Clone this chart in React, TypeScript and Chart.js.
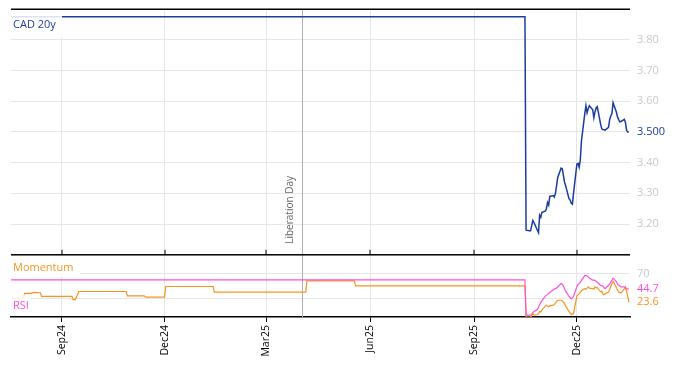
import { useEffect, useRef } from 'react';
import { Chart, registerables } from 'chart.js';

Chart.register(...registerables);

const FONT = "'Open Sans', 'Noto Sans', sans-serif";
const BLUE = '#1b3d9e';
const MAGENTA = '#ff4fd8';
const ORANGE = '#f7941d';
const GRID = '#e6e6e6';
const TICK_GRAY = '#c9c9c9';

// ---- axis / annotation data ----
const X_START = '2024-07-18';
const X_END = '2026-01-17';
const TICK_DATES = ['2024-09-01', '2024-12-01', '2025-03-01', '2025-06-01', '2025-09-01', '2025-12-01'];
const TICK_LABELS = ['Sep24', 'Dec24', 'Mar25', 'Jun25', 'Sep25', 'Dec25'];
const EVENT_DATE = '2025-04-02';
const EVENT_LABEL = 'Liberation Day';
const Y_TICKS = [3.2, 3.3, 3.4, 3.5, 3.6, 3.7, 3.8];
const Y2_TICKS = [30, 70];

// ---- series data ----
const CAD_HIST_DATES = ['2024-07-18', '2025-10-16'];
const CAD_HIST_VALUES = [3.875, 3.875];
const RSI_HIST_DATES = ['2024-07-18', '2025-10-16'];
const RSI_HIST_VALUES = [59.7, 59.7];
const MOM_HIST_DATES = [
  '2024-07-18', '2024-07-29', '2024-07-30', '2024-08-05', '2024-08-07', '2024-08-13',
  '2024-08-14', '2024-09-10', '2024-09-11', '2024-09-13', '2024-09-16', '2024-10-28',
  '2024-10-29', '2024-11-13', '2024-11-14', '2024-12-01', '2024-12-02', '2025-01-13',
  '2025-01-14', '2025-04-05', '2025-04-06', '2025-05-18', '2025-05-19', '2025-10-16',
];
const MOM_HIST_VALUES = [
  30, 30, 38, 38, 39.5, 39,
  33, 33, 28, 28, 41, 41,
  34, 34, 32, 32, 49, 49,
  40, 40, 58.2, 58.2, 50, 50,
];

// daily (business-day) tail, 2025-10-17 .. 2026-01-16
const TAIL_START = '2025-10-17';
const TAIL_END = '2026-01-16';
const CAD_TAIL = [
  3.180, 3.178, 3.178, 3.195, 3.212, 3.205, 3.180, 3.172, 3.229, 3.222,
  3.238, 3.242, 3.250, 3.270, 3.262, 3.290, 3.293, 3.288, 3.300, 3.325,
  3.352, 3.382, 3.380, 3.360, 3.337, 3.325, 3.283, 3.278, 3.268, 3.265,
  3.300, 3.396, 3.398, 3.385, 3.408, 3.470, 3.560, 3.585, 3.562, 3.575,
  3.585, 3.572, 3.546, 3.565, 3.578, 3.582, 3.525, 3.510, 3.508, 3.507,
  3.506, 3.515, 3.540, 3.552, 3.560, 3.595, 3.564, 3.548, 3.540, 3.533,
  3.534, 3.541, 3.530, 3.505, 3.500, 3.500,
];
const RSI_TAIL = [
  3, 3, 3.5, 4.5, 7, 9, 12, 15.5, 19.5, 23.5,
  26, 33.5, 35.2, 36.4, 38, 39.4, 43.5, 45.4, 45.6, 46.5,
  48.2, 53.7, 52.8, 50, 45.6, 41.5, 33, 31, 29.5, 31,
  33, 49, 52.3, 54, 55.8, 58.8, 66.5, 67, 65.8, 64.5,
  62.8, 59.2, 59.2, 59, 57.5, 55.8, 50.8, 50.4, 49.5, 47,
  45.6, 51, 53, 56, 59.2, 62.5, 57, 52.5, 51, 50.2,
  48.5, 48.4, 47, 45.6, 45, 44.7,
];
const MOM_TAIL = [
  0, 0, 0, 2, 5.3, 3, 4, 5, 9, 8,
  11, 17.5, 18.9, 17.5, 16.5, 18, 19, 19.8, 22.5, 25,
  26.9, 26.9, 26, 24, 21.5, 17.5, 9, 6, 3.7, 5,
  5.3, 34, 35.5, 37.5, 40, 42.5, 45.5, 44.7, 46.5, 48,
  46.5, 45.5, 45, 48.4, 46.5, 47.5, 40.5, 41.5, 37, 36,
  37.5, 40, 44, 49, 54, 57, 47, 43, 40, 39.5,
  38.5, 45, 48, 41, 33, 23.6,
];

// ---- helpers ----
const dayNum = (s: string) => {
  const [y, m, d] = s.split('-').map(Number);
  return Date.UTC(y, m - 1, d) / 86400000;
};
const businessDays = (start: string, end: string) => {
  const out: number[] = [];
  for (let d = dayNum(start); d <= dayNum(end); d++) {
    const wd = new Date(d * 86400000).getUTCDay();
    if (wd !== 0 && wd !== 6) out.push(d);
  }
  return out;
};
const TAIL_DAYS = businessDays(TAIL_START, TAIL_END);
const buildSeries = (hd: string[], hv: number[], tail: number[]) => [
  ...hd.map((d, i) => ({ x: dayNum(d), y: hv[i] })),
  ...tail.map((v, i) => ({ x: TAIL_DAYS[i], y: v })),
];

const overlayPlugin = {
  id: 'overlay',
  beforeDatasetsDraw(chart: any) {
    const { ctx, chartArea, scales } = chart;
    const x = Math.round(scales.x.getPixelForValue(dayNum(EVENT_DATE))) + 0.5;
    ctx.save();
    ctx.strokeStyle = '#b0b0b0';
    ctx.lineWidth = 1;
    ctx.beginPath();
    ctx.moveTo(x, chartArea.top);
    ctx.lineTo(x, chartArea.bottom);
    ctx.stroke();
    ctx.translate(x - 12, scales.y.bottom - 11);
    ctx.rotate(-Math.PI / 2);
    ctx.font = `10px ${FONT}`;
    ctx.fillStyle = '#666';
    ctx.textAlign = 'left';
    ctx.textBaseline = 'middle';
    ctx.fillText(EVENT_LABEL, 0, 0);
    ctx.restore();
  },
  afterDatasetsDraw(chart: any) {
    const { ctx, chartArea, scales } = chart;
    const L = chartArea.left;
    const W = chartArea.right - chartArea.left;
    ctx.save();
    const nameBox = (text: string, color: string, bx: number, by: number, bw: number, bh: number, ty: number) => {
      ctx.fillStyle = 'rgba(255,255,255,0.85)';
      ctx.fillRect(bx, by, bw, bh);
      ctx.fillStyle = color;
      ctx.font = `11px ${FONT}`;
      ctx.textAlign = 'left';
      ctx.textBaseline = 'middle';
      ctx.fillText(text, L + 2, ty);
    };
    const yTop = scales.y.top;
    const y2Top = scales.y2.top;
    nameBox('CAD 20y', BLUE, L, yTop + 1, 51, 27, yTop + 16);
    nameBox('Momentum', ORANGE, L, y2Top + 1, 69, 21, y2Top + 13);
    nameBox('RSI', MAGENTA, L, y2Top + 40, 20, 21, y2Top + 51);

    ctx.fillStyle = '#000';
    ctx.fillRect(L, chartArea.top - 0.5, W, 1.5);
    const yb = scales.y.bottom;
    ctx.fillRect(L, yb - 0.75, W, 1.5);
    TICK_DATES.forEach((d) => {
      const px = Math.round(scales.x.getPixelForValue(dayNum(d)));
      ctx.fillRect(px - 0.5, yb - 5, 1, 5);
    });

    const items = [
      { s: scales.y, v: CAD_TAIL[CAD_TAIL.length - 1], t: CAD_TAIL[CAD_TAIL.length - 1].toFixed(3), c: BLUE },
      { s: scales.y2, v: RSI_TAIL[RSI_TAIL.length - 1], t: RSI_TAIL[RSI_TAIL.length - 1].toFixed(1), c: MAGENTA },
      { s: scales.y2, v: MOM_TAIL[MOM_TAIL.length - 1], t: MOM_TAIL[MOM_TAIL.length - 1].toFixed(1), c: ORANGE },
    ];
    items.forEach((it) => {
      const y = it.s.getPixelForValue(it.v);
      ctx.fillStyle = '#fff';
      ctx.fillRect(chartArea.right + 3, y - 6.5, 34, 13);
      ctx.fillStyle = it.c;
      ctx.font = `11px ${FONT}`;
      ctx.textAlign = 'left';
      ctx.textBaseline = 'middle';
      ctx.fillText(it.t, chartArea.right + 7, y);
    });
    ctx.restore();
  },
};

const fitY = (s: any) => {
  s.width = 36;
  s.paddingTop = 0;
  s.paddingBottom = 0;
};

export default function App() {
  const ref = useRef<HTMLCanvasElement | null>(null);
  useEffect(() => {
    if (!ref.current) return;
    Chart.defaults.font.family = FONT;
    const chart = new Chart(ref.current, {
      type: 'line',
      data: {
        datasets: [
          {
            label: 'CAD 20y',
            data: buildSeries(CAD_HIST_DATES, CAD_HIST_VALUES, CAD_TAIL),
            yAxisID: 'y',
            borderColor: BLUE,
            borderWidth: 1.5,
            pointRadius: 0,
            tension: 0,
          },
          {
            label: 'RSI',
            data: buildSeries(RSI_HIST_DATES, RSI_HIST_VALUES, RSI_TAIL),
            yAxisID: 'y2',
            borderColor: MAGENTA,
            borderWidth: 1.2,
            pointRadius: 0,
            tension: 0,
          },
          {
            label: 'Momentum',
            data: buildSeries(MOM_HIST_DATES, MOM_HIST_VALUES, MOM_TAIL),
            yAxisID: 'y2',
            borderColor: ORANGE,
            borderWidth: 1.2,
            pointRadius: 0,
            tension: 0,
          },
        ],
      },
      options: {
        animation: false,
        responsive: false,
        layout: { padding: { left: 3, top: 1, right: 0, bottom: 1 } },
        plugins: { legend: { display: false }, tooltip: { enabled: false } },
        scales: {
          x: {
            type: 'linear',
            min: dayNum(X_START),
            max: dayNum(X_END),
            afterBuildTicks: (s: any) => {
              s.ticks = TICK_DATES.map((d) => ({ value: dayNum(d) }));
            },
            afterFit: (s: any) => {
              s.height = 40;
              s.paddingLeft = 0;
              s.paddingRight = 0;
            },
            ticks: {
              autoSkip: false,
              minRotation: 90,
              maxRotation: 90,
              padding: 3,
              color: '#000',
              font: { size: 10.5, family: FONT },
              callback: (_v: any, i: number) => TICK_LABELS[i],
            },
            grid: { color: GRID, tickColor: '#000', tickLength: 5, drawTicks: true },
            border: { display: true, color: '#000', width: 1.5 },
          },
          y: {
            type: 'linear',
            position: 'right',
            stack: 'panels',
            stackWeight: 245,
            min: 3.1,
            max: 3.9,
            afterBuildTicks: (s: any) => {
              s.ticks = Y_TICKS.map((v) => ({ value: v }));
            },
            afterFit: fitY,
            ticks: {
              padding: 7,
              color: TICK_GRAY,
              font: { size: 11, family: FONT },
              callback: (v: any) => Number(v).toFixed(2),
            },
            grid: { color: GRID, drawTicks: false },
            border: { display: false },
          },
          y2: {
            type: 'linear',
            position: 'right',
            stack: 'panels',
            stackWeight: 62,
            min: 0,
            max: 100,
            afterBuildTicks: (s: any) => {
              s.ticks = Y2_TICKS.map((v) => ({ value: v }));
            },
            afterFit: fitY,
            ticks: {
              padding: 7,
              color: TICK_GRAY,
              font: { size: 11, family: FONT },
              callback: (v: any) => (Number(v) === 70 ? '70' : ''),
            },
            grid: { color: GRID, drawTicks: false },
            border: { display: false },
          },
        },
      },
      plugins: [overlayPlugin],
    } as any);
    return () => chart.destroy();
  }, []);
  return (
    <div style={{ width: 658, height: 350 }}>
      <canvas ref={ref} width={658} height={350} style={{ display: 'block' }} />
    </div>
  );
}
